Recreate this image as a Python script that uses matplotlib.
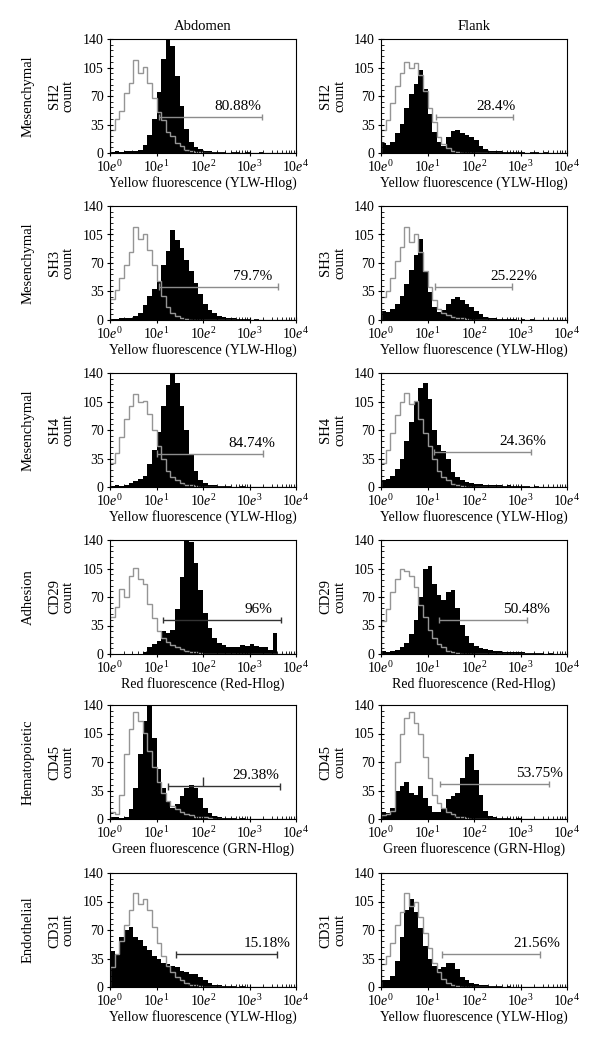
import numpy as np
import matplotlib
matplotlib.use('Agg')
from matplotlib import pyplot as plt
from matplotlib.ticker import MultipleLocator, LogLocator, NullFormatter

plt.rcParams['font.family'] = ['Liberation Serif', 'DejaVu Serif']
plt.rcParams['mathtext.fontset'] = 'custom'
plt.rcParams['mathtext.rm'] = 'Liberation Serif'
plt.rcParams['mathtext.it'] = 'Liberation Serif:italic'

# 40 channels per histogram, 10 per decade from 10^0 to 10^4
n_bins = 40

columns = ['Abdomen', 'Flank']
groups = ['Mesenchymal', 'Mesenchymal', 'Mesenchymal', 'Adhesion', 'Hematopoietic', 'Endothelial']
markers = ['SH2', 'SH3', 'SH4', 'CD29', 'CD45', 'CD31']
channels = ['Yellow fluorescence (YLW-Hlog)', 'Yellow fluorescence (YLW-Hlog)',
            'Yellow fluorescence (YLW-Hlog)', 'Red fluorescence (Red-Hlog)',
            'Green fluorescence (GRN-Hlog)', 'Yellow fluorescence (YLW-Hlog)']
xtick_labels = [r'$10\mathit{e}^{0}$', r'$10\mathit{e}^{1}$', r'$10\mathit{e}^{2}$',
                r'$10\mathit{e}^{3}$', r'$10\mathit{e}^{4}$']
ytick_values = [0, 35, 70, 105, 140]

# isotype control (gray outline) and stained sample (black fill)
sh2_abd_ctrl = [28, 42, 52, 74, 86, 114, 98, 106, 86, 68, 50, 40, 26, 21, 12, 9, 4, 3, 1, 1,
                0, 0, 0, 0, 0, 0, 0, 0, 0, 0, 0, 0, 0, 0, 0, 0, 0, 0, 0, 0]
sh2_abd = [1, 2, 1, 2, 2, 3, 4, 10, 22, 42, 75, 115, 145, 132, 95, 58, 30, 14, 7, 5,
           3, 2, 1, 1, 1, 0, 1, 1, 0, 1, 0, 0, 1, 0, 0, 0, 0, 0, 0, 0]
sh2_fla_ctrl = [28, 40, 62, 82, 98, 112, 104, 110, 96, 76, 55, 38, 20, 11, 6, 3, 1, 0, 0, 0,
                0, 0, 0, 0, 0, 0, 0, 0, 0, 0, 0, 0, 0, 0, 0, 0, 0, 0, 0, 0]
sh2_fla = [12, 10, 14, 24, 36, 55, 72, 85, 102, 78, 48, 26, 13, 9, 20, 27, 28, 25, 22, 20,
           16, 9, 5, 3, 2, 2, 1, 1, 1, 1, 1, 0, 1, 1, 0, 1, 0, 0, 0, 0]

sh3_abd_ctrl = [26, 37, 52, 68, 84, 114, 100, 106, 86, 68, 48, 30, 16, 9, 5, 2, 1, 0, 0, 0,
                0, 0, 0, 0, 0, 0, 0, 0, 0, 0, 0, 0, 0, 0, 0, 0, 0, 0, 0, 0]
sh3_abd = [1, 1, 2, 2, 3, 5, 8, 18, 30, 38, 48, 68, 85, 110, 98, 88, 74, 60, 45, 32,
           20, 12, 8, 5, 4, 3, 2, 1, 1, 1, 0, 1, 0, 0, 0, 0, 0, 0, 0, 0]
sh3_fla_ctrl = [28, 36, 52, 72, 90, 114, 96, 106, 84, 60, 40, 24, 14, 9, 6, 4, 3, 2, 1, 0,
                0, 0, 0, 0, 0, 0, 0, 0, 0, 0, 0, 0, 0, 0, 0, 0, 0, 0, 0, 0]
sh3_fla = [11, 10, 14, 20, 30, 44, 62, 80, 100, 60, 34, 16, 10, 12, 20, 26, 28, 25, 20, 16,
           11, 7, 4, 3, 2, 1, 1, 1, 1, 0, 1, 0, 1, 0, 0, 0, 0, 0, 0, 0]

sh4_abd_ctrl = [30, 42, 62, 84, 100, 114, 104, 106, 90, 70, 50, 34, 20, 12, 8, 5, 3, 2, 1, 0,
                0, 0, 0, 0, 0, 0, 0, 0, 0, 0, 0, 0, 0, 0, 0, 0, 0, 0, 0, 0]
sh4_abd = [1, 2, 1, 2, 5, 7, 10, 14, 28, 46, 68, 100, 125, 145, 128, 100, 70, 40, 20, 9,
           5, 3, 2, 1, 1, 1, 0, 0, 1, 0, 0, 0, 0, 0, 0, 0, 0, 0, 0, 0]
sh4_fla_ctrl = [30, 46, 66, 88, 104, 116, 102, 106, 84, 66, 50, 34, 20, 12, 8, 4, 2, 1, 0, 0,
                0, 0, 0, 0, 0, 0, 0, 0, 0, 0, 0, 0, 0, 0, 0, 0, 0, 0, 0, 0]
sh4_fla = [9, 10, 14, 22, 34, 56, 80, 104, 122, 128, 108, 70, 52, 44, 34, 18, 12, 8, 6, 5,
           4, 4, 3, 3, 2, 2, 1, 2, 1, 1, 1, 1, 0, 1, 0, 0, 0, 0, 0, 0]

cd29_abd_ctrl = [45, 58, 80, 70, 96, 106, 92, 86, 62, 44, 28, 20, 15, 11, 8, 6, 4, 3, 2, 1,
                 0, 0, 0, 0, 0, 0, 0, 0, 0, 0, 0, 0, 0, 0, 0, 0, 0, 0, 0, 0]
cd29_abd = [0, 0, 0, 0, 0, 0, 0, 3, 8, 12, 16, 28, 26, 30, 55, 95, 140, 138, 112, 78,
            50, 32, 20, 14, 11, 9, 9, 8, 11, 10, 12, 10, 9, 8, 5, 26, 0, 0, 0, 0]
cd29_fla_ctrl = [40, 55, 76, 92, 104, 102, 96, 82, 60, 45, 30, 20, 12, 8, 4, 2, 1, 0, 0, 0,
                 0, 0, 0, 0, 0, 0, 0, 0, 0, 0, 0, 0, 0, 0, 0, 0, 0, 0, 0, 0]
cd29_fla = [4, 3, 4, 5, 8, 14, 24, 42, 70, 104, 108, 86, 72, 66, 76, 78, 56, 36, 22, 14,
            10, 7, 6, 5, 4, 4, 3, 3, 2, 2, 2, 1, 1, 1, 1, 0, 1, 0, 0, 0]

cd45_abd_ctrl = [8, 6, 30, 80, 110, 132, 120, 106, 84, 64, 46, 32, 22, 16, 12, 9, 6, 5, 3, 3,
                 2, 1, 0, 0, 0, 0, 0, 0, 0, 0, 0, 0, 0, 0, 0, 0, 0, 0, 0, 0]
cd45_abd = [2, 2, 1, 3, 12, 38, 80, 120, 140, 100, 62, 38, 22, 14, 18, 28, 38, 42, 38, 26,
            14, 7, 4, 2, 1, 1, 1, 0, 1, 0, 0, 0, 0, 0, 0, 0, 0, 0, 0, 0]
cd45_fla_ctrl = [5, 6, 10, 70, 104, 124, 132, 118, 104, 76, 50, 30, 20, 14, 9, 6, 3, 2, 1, 0,
                 0, 0, 0, 0, 0, 0, 0, 0, 0, 0, 0, 0, 0, 0, 0, 0, 0, 0, 0, 0]
cd45_fla = [8, 7, 14, 34, 40, 46, 32, 30, 40, 26, 16, 9, 8, 12, 24, 28, 32, 50, 76, 80,
            60, 30, 10, 4, 2, 1, 1, 1, 0, 1, 0, 0, 0, 0, 0, 0, 0, 0, 0, 0]

cd31_abd_ctrl = [24, 40, 56, 76, 94, 116, 102, 108, 94, 74, 54, 38, 26, 18, 12, 8, 5, 3, 2, 1,
                 0, 0, 0, 0, 0, 0, 0, 0, 0, 0, 0, 0, 0, 0, 0, 0, 0, 0, 0, 0]
cd31_abd = [44, 40, 62, 70, 74, 62, 58, 50, 46, 38, 34, 30, 28, 26, 24, 20, 18, 16, 16, 12,
            8, 5, 3, 2, 1, 1, 1, 0, 1, 0, 0, 0, 0, 0, 0, 0, 0, 0, 0, 0]
cd31_fla_ctrl = [28, 38, 54, 76, 92, 116, 100, 104, 86, 66, 48, 30, 18, 10, 5, 3, 1, 0, 0, 0,
                 0, 0, 0, 0, 0, 0, 0, 0, 0, 0, 0, 0, 0, 0, 0, 0, 0, 0, 0, 0]
cd31_fla = [8, 9, 14, 32, 62, 94, 108, 92, 72, 50, 34, 26, 22, 24, 30, 30, 22, 12, 8, 5,
            4, 3, 2, 1, 1, 1, 0, 1, 0, 0, 0, 0, 0, 0, 0, 0, 0, 0, 0, 0]

controls = [[sh2_abd_ctrl, sh2_fla_ctrl], [sh3_abd_ctrl, sh3_fla_ctrl], [sh4_abd_ctrl, sh4_fla_ctrl],
            [cd29_abd_ctrl, cd29_fla_ctrl], [cd45_abd_ctrl, cd45_fla_ctrl], [cd31_abd_ctrl, cd31_fla_ctrl]]
samples = [[sh2_abd, sh2_fla], [sh3_abd, sh3_fla], [sh4_abd, sh4_fla],
           [cd29_abd, cd29_fla], [cd45_abd, cd45_fla], [cd31_abd, cd31_fla]]

# gate markers: (start decade, end decade, count level), percent positive
gate_start = [[1.06, 1.19], [1.06, 1.17], [1.02, 1.13], [1.13, 1.24], [1.24, 1.27], [1.42, 1.31]]
gate_end = [[3.26, 2.84], [3.61, 2.82], [3.30, 3.22], [3.67, 3.14], [3.65, 3.61], [3.60, 3.43]]
gate_level = [[44, 44], [41, 41], [41, 43], [42, 42], [40, 43], [40, 40]]
percent = [['80.88%', '28.4%'], ['79.7%', '25.22%'], ['84.74%', '24.36%'],
           ['96%', '50.48%'], ['29.38%', '53.75%'], ['15.18%', '21.56%']]

# layout (pixels)
W, H = 600, 1052
ax_left = [110, 381]
ax_w = 186
row_top = [39, 206, 373, 540, 705, 873]
ax_h = 114
label_x_pct = [[2.74, 2.48], [3.07, 2.86], [3.04, 3.05], [3.20, 3.12], [3.14, 3.40], [3.37, 3.36]]
gate_black = [[False, False], [False, False], [False, False], [True, False], [True, False], [True, False]]

fig = plt.figure(figsize=(W / 100, H / 100), dpi=100)
edges = np.logspace(0, 4, n_bins + 1)

for i in range(6):
	for j in range(2):
		b = 1 - (row_top[i] + ax_h) / H
		ax = fig.add_axes([ax_left[j] / W, b, ax_w / W, ax_h / H])
		ax.stairs(samples[i][j], edges, fill=True, color='black', lw=0)
		ax.stairs(controls[i][j], edges, color='#959595', lw=1.0)

		gc = '#333333' if gate_black[i][j] else '#8c8c8c'
		x0 = 10 ** gate_start[i][j]
		x1 = 10 ** gate_end[i][j]
		y = gate_level[i][j]
		ax.hlines(y, x0, x1, color=gc, lw=1.0)
		ax.vlines([x0, x1], y - 4, y + 4, color=gc, lw=1.0)
		if i == 4 and j == 0:
			ax.vlines(10 ** 1.99, y, y + 11, color=gc, lw=1.0)
		ax.text(10 ** label_x_pct[i][j], y + 5, percent[i][j], ha='center', va='bottom', fontsize=11)

		ax.set_xscale('log')
		ax.set_xlim(1, 1e4)
		ax.set_ylim(0, 140)
		ax.set_xticks([1, 10, 100, 1000, 10000])
		ax.set_xticklabels(xtick_labels)
		ax.xaxis.set_minor_locator(LogLocator(base=10, subs=np.arange(2, 10), numticks=20))
		ax.xaxis.set_minor_formatter(NullFormatter())
		ax.set_yticks(ytick_values)
		ax.yaxis.set_minor_locator(MultipleLocator(7))
		ax.tick_params(which='major', direction='inout', length=5, width=0.8, labelsize=10, pad=2)
		ax.tick_params(which='minor', direction='in', length=2.5, width=0.6)
		for s in ax.spines.values():
			s.set_linewidth(0.8)
		ax.set_xlabel(channels[i], fontsize=10, labelpad=1)

		yc = 1 - (row_top[i] + ax_h / 2) / H
		if j == 0:
			fig.text(28 / W, yc, groups[i], rotation=90, ha='center', va='center', fontsize=10.5)
			fig.text(55 / W, yc, markers[i], rotation=90, ha='center', va='center', fontsize=10.5)
			fig.text(68 / W, yc, 'count', rotation=90, ha='center', va='center', fontsize=10.5)
		else:
			fig.text(326 / W, yc, markers[i], rotation=90, ha='center', va='center', fontsize=10.5)
			fig.text(340 / W, yc, 'count', rotation=90, ha='center', va='center', fontsize=10.5)

for j in range(2):
	fig.text((ax_left[j] + ax_w / 2) / W, 1 - 27 / H, columns[j], ha='center', va='center', fontsize=10.5)

fig.savefig('out.png', dpi=100)
